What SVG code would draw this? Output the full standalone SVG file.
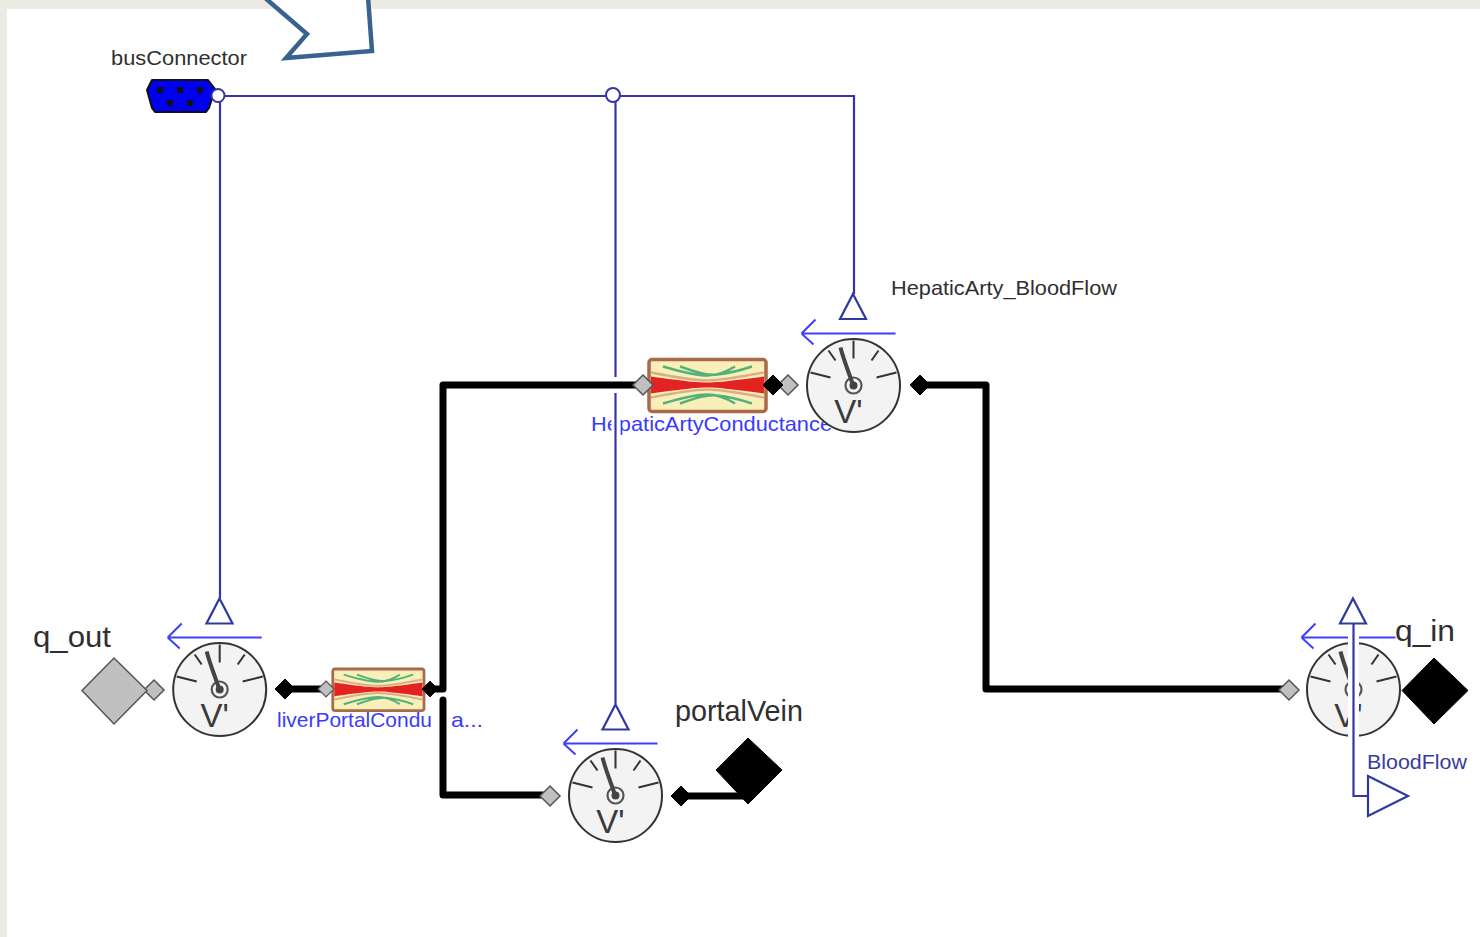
<svg xmlns="http://www.w3.org/2000/svg" width="1480" height="937" viewBox="0 0 1480 937">
<style>
text{font-family:"Liberation Sans",Arial,sans-serif}
.lbl{font-size:21px;fill:#2f2f2f}
.big{font-size:30px;fill:#2f2f2f}
.bl{font-size:21px;fill:#3a3aff}
.thick{fill:none;stroke:#000;stroke-width:7;stroke-linejoin:round;stroke-linecap:round}
.sig{fill:none;stroke:#3535a5;stroke-width:2.2}
.tri{fill:#fff;stroke:#2f3aa0;stroke-width:2.2}
.gp{fill:#c0c0c0;stroke:#555;stroke-width:1.5}
.bp{fill:#000;stroke:#000}
</style>
<defs>
<g id="gauge">
<path d="M-52-52H42M-52-52L-38-66M-52-52L-40-41" fill="none" stroke="#3f3fff" stroke-width="2"/>
<circle r="46.500" fill="#f3f3f3" stroke="#333" stroke-width="2"/>
<path d="M0-45V-27M-43-13L-23-8M43-13L23-8M-25-35L-18-25M25-35L18-25" fill="none" stroke="#333" stroke-width="2"/>
<circle r="8" fill="#f3f3f3" stroke="#555" stroke-width="2.200"/>
<path d="M-13-38C-10-26-5-14-1-2" fill="none" stroke="#444" stroke-width="4"/>
<circle r="4" fill="#444"/>
<text x="-5" y="37" font-size="33" fill="#3a3a3a" text-anchor="middle" style="font-family:'Liberation Sans',Arial,sans-serif">V'</text>
</g>
<path id="tri" class="tri" d="M0-91L13-66H-13Z"/>
<g id="res">
<rect x="-58" y="-25" width="117" height="52" rx="3" fill="#f8f0b8" stroke="#a86a4a" stroke-width="3.500"/>
<path d="M-56-8C-20-3-10-2 0-2S20-3 57-8V9C20 4 10 3 0 3S-20 4-56 9Z" fill="#e32222"/>
<path d="M-56-12C-20-5-10-4 0-4S20-5 57-12M-56 13C-20 6-10 5 0 5S20 6 57 13" fill="none" stroke="#dcae88" stroke-width="2.500"/>
<path d="M-44-18C-20-11-10-9 0-9S20-13 28-18M-27-18C-10-12 0-9 10-10S30-13 45-18M-44 19C-20 12-10 10 0 10S20 14 28 19M-27 19C-10 13 0 10 10 11S30 14 45 19" fill="none" stroke="#55b07c" stroke-width="2.500"/>
</g>
<path id="gd" class="gp" d="M0-10L10 0L0 10L-10 0Z"/>
<path id="bd" class="bp" d="M0-10L10 0L0 10L-10 0Z"/>
</defs>
<rect width="1480" height="937" fill="#fff"/>
<path d="M0 0H1480V9H7V937H0Z" fill="#ecebe3"/>
<path id="callout" d="M264-3L307 34L286 58L372 51L368-3" fill="#fff" stroke="#3a6290" stroke-width="4.500"/>
<text class="bl" x="591" y="431" textLength="241" lengthAdjust="spacingAndGlyphs">HepaticArtyConductance</text>
<text class="bl" x="277" y="727" textLength="155" lengthAdjust="spacingAndGlyphs">liverPortalCondu</text>
<text class="bl" x="451" y="727" textLength="32" lengthAdjust="spacingAndGlyphs">a...</text>
<g id="connectors">
<rect x="611.500" y="405" width="9" height="36" fill="#fff"/>
<path class="sig" d="M217 96H854V294"/>
<path class="sig" d="M220 96V598"/>
<path class="sig" d="M615.500 96V704"/>
<path d="M615.500 377V393" stroke="#fff" stroke-width="4"/>
<path class="thick" d="M1289 689H986V385H920"/>
<path class="thick" d="M643 385H443V689H430"/>
<path class="thick" d="M443 700V795H550"/>
<path class="thick" d="M326 689H285"/>
<path class="thick" d="M681 796H748"/>
</g>
<g id="busConnector">
<text class="lbl" x="111" y="65" textLength="136" lengthAdjust="spacingAndGlyphs">busConnector</text>
<path d="M152 80H208L215 89L209 108L206 112H155L152 108L147 90Z" fill="#0000f0" stroke="#111" stroke-width="2" stroke-linejoin="round"/>
<g fill="#111"><rect x="157" y="87" width="6" height="6"/><rect x="177" y="87" width="6" height="6"/><rect x="197" y="87" width="6" height="6"/><rect x="167" y="100" width="6" height="6"/><rect x="187" y="100" width="6" height="6"/></g>
<circle cx="218" cy="95.500" r="6.500" fill="#fff" stroke="#3535a5" stroke-width="2"/>
</g>
<circle id="junction" cx="613" cy="95" r="7" fill="#fff" stroke="#3535a5" stroke-width="2"/>
<g id="HepaticArty_BloodFlow">
<use href="#gauge" x="853.500" y="385.500"/>
<use href="#tri" x="853" y="385"/>
<use href="#gd" x="788" y="385"/>
<use href="#bd" x="920" y="385"/>
<text class="lbl" x="891" y="295" textLength="226" lengthAdjust="spacingAndGlyphs">HepaticArty_BloodFlow</text>
</g>
<g id="HepaticArtyConductance">
<use href="#res" x="707" y="384.500"/>
<use href="#gd" x="643" y="385"/>
<use href="#bd" x="773" y="385"/>
</g>
<g id="liverPortalConductance">
<use href="#res" transform="translate(378 689) scale(.78 .8)"/>
<use href="#gd" transform="translate(326 689) scale(.8)"/>
<use href="#bd" transform="translate(430 689) scale(.8)"/>
</g>
<g id="q_out_flow">
<use href="#gauge" x="219.700" y="689.500"/>
<use href="#tri" x="219.500" y="689.500"/>
<use href="#bd" x="285" y="689"/>
<use href="#gd" x="154" y="690"/>
</g>
<g id="q_out">
<path class="gp" d="M114 658L147 690.500L114 724L82 690.500Z"/>
<text class="big" x="33" y="647" textLength="78" lengthAdjust="spacingAndGlyphs">q_out</text>
</g>
<g id="portalVein_flow">
<use href="#gauge" x="615.500" y="795.500"/>
<use href="#tri" x="615.500" y="795.500"/>
<use href="#gd" x="550" y="796"/>
<use href="#bd" x="681" y="796"/>
</g>
<g id="portalVein">
<path class="bp" d="M748 738L782 770L748 804L716 770Z"/>
<text class="big" x="675" y="721" textLength="128" lengthAdjust="spacingAndGlyphs">portalVein</text>
</g>
<g id="BloodFlow">
<use href="#gauge" x="1353.500" y="689.500"/>
<use href="#gd" x="1289" y="690"/>
<path d="M1353.500 625V745" stroke="#fff" stroke-width="11"/>
<use href="#tri" x="1353" y="689.500"/>
<path class="sig" d="M1353.500 624V796H1368"/>
<path class="tri" d="M1368 776L1408 796L1368 816Z"/>
<text class="lbl" x="1367" y="769" style="fill:#3a3a9a" textLength="100" lengthAdjust="spacingAndGlyphs">BloodFlow</text>
</g>
<g id="q_in">
<path class="bp" d="M1434 658L1468 690.500L1434 724L1402 690.500Z"/>
<text class="big" x="1395" y="641" textLength="60" lengthAdjust="spacingAndGlyphs">q_in</text>
</g>
</svg>
